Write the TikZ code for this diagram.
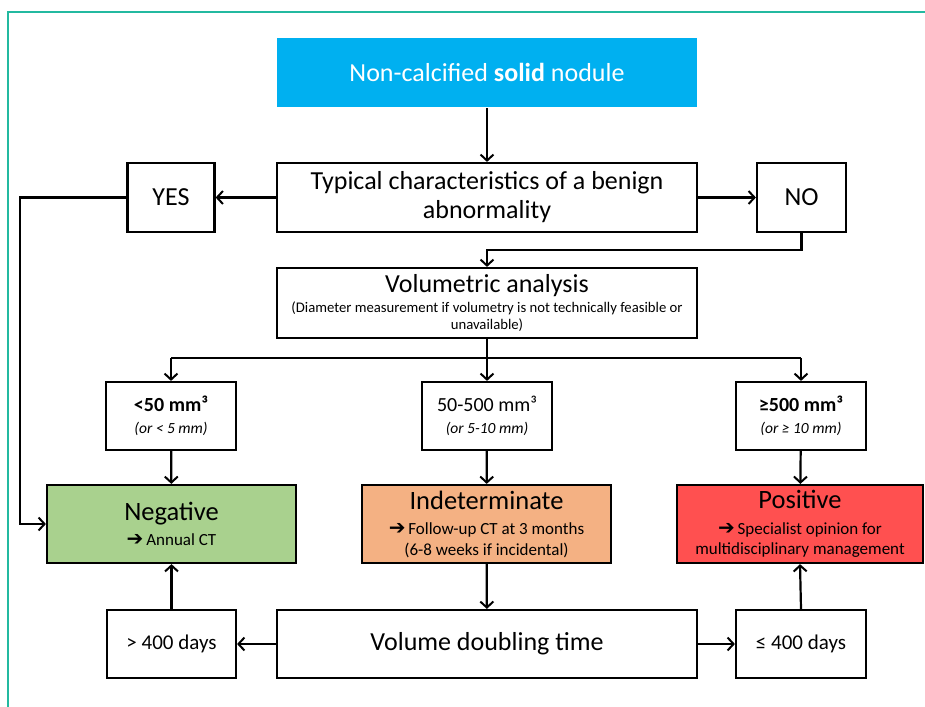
\documentclass[tikz,border=0pt]{standalone}
\usepackage{fontspec}
\setmainfont{Carlito}
\newfontfamily\dvfont{DejaVu Sans}
\usetikzlibrary{arrows.meta}
\definecolor{cyanbox}{HTML}{00B0F0}
\definecolor{greenbox}{HTML}{A9D18E}
\definecolor{orangebox}{HTML}{F4B183}
\definecolor{redbox}{HTML}{FF5050}
\definecolor{frameteal}{RGB}{35,185,160}
\newcommand{\myarr}{{\dvfont\bfseries\fontsize{20}{20}\selectfont ➔}\,}
\begin{document}
\begin{tikzpicture}[x=1pt,y=-1pt,
  box/.style={draw=black,line width=2.2pt,fill=white,inner sep=0pt,align=center,anchor=center},
  conn/.style={line width=2.2pt,-{Straight Barb[length=6pt,width=13pt,line width=2pt]}},
  plain/.style={line width=2.2pt}]
\useasboundingbox (0,0) rectangle (925,706);
\fill[white] (0,0) rectangle (925,706);
\draw[frameteal,line width=1.8pt] (8,707) -- (8,12) -- (926,12);

\node[box,fill=cyanbox,draw=none,text=white,minimum width=420,minimum height=69,font=\fontsize{26}{29}\selectfont] (top) at (487,72.5) {Non-calcified \textbf{solid} nodule};
\node[box,minimum width=420,minimum height=69,font=\fontsize{26}{29}\selectfont] (typ) at (487,197.5) {Typical characteristics of a benign\\abnormality};
\node[box,minimum width=87,minimum height=69,font=\fontsize{26}{29}\selectfont] (yes) at (171,197.5) {YES};
\node[box,minimum width=89,minimum height=69,font=\fontsize{26}{29}\selectfont] (no) at (801.5,197.5) {NO};
\node[box,minimum width=420,minimum height=70,font=\fontsize{14.7}{17}\selectfont] (vol) at (487,303) {{\fontsize{26}{29}\selectfont Volumetric analysis}\\[3pt](Diameter measurement if volumetry is not technically feasible or\\unavailable)};

\node[box,minimum width=130,minimum height=68,font=\fontsize{15.5}{22}\selectfont] (s1) at (171,416) {{\fontsize{20}{22}\selectfont\textbf{<50 mm³}}\\\textit{(or < 5 mm)}};
\node[box,minimum width=130,minimum height=68,font=\fontsize{15.5}{22}\selectfont] (s2) at (487,416) {{\fontsize{20}{22}\selectfont 50-500 mm³}\\\textit{(or 5-10 mm)}};
\node[box,minimum width=130,minimum height=68,font=\fontsize{15.5}{22}\selectfont] (s3) at (801,416) {{\fontsize{20}{22}\selectfont\textbf{≥500 mm³}}\\\textit{(or ≥ 10 mm)}};

\node[box,fill=greenbox,minimum width=249,minimum height=78,font=\fontsize{17}{20.5}\selectfont] (neg) at (171.5,524) {{\fontsize{26.5}{29}\selectfont Negative}\\[5pt]\myarr Annual CT};
\node[box,fill=orangebox,minimum width=249,minimum height=78,font=\fontsize{17}{20.5}\selectfont] (ind) at (486.5,524) {{\fontsize{26.5}{29}\selectfont Indeterminate}\\[5pt]\myarr Follow-up CT at 3 months\\(6-8 weeks if incidental)};
\node[box,fill=redbox,minimum width=246,minimum height=78,font=\fontsize{17}{20.5}\selectfont] (pos) at (800,524) {{\fontsize{26.5}{29}\selectfont Positive}\\[5pt]\myarr Specialist opinion for\\multidisciplinary management};

\node[box,minimum width=129,minimum height=68,font=\fontsize{21}{24}\selectfont] (b1) at (171.5,644) {> 400 days};
\node[box,minimum width=420,minimum height=68,font=\fontsize{26}{29}\selectfont] (vdt) at (487,644) {Volume doubling time};
\node[box,minimum width=130,minimum height=68,font=\fontsize{21}{24}\selectfont] (b3) at (801,644) {≤ 400 days};

\coordinate (nojoin) at (801.5,250);
\coordinate (voljoin) at (487,250);
\coordinate (yesleft) at (20,197.5);
\coordinate (negleft) at (20,524);
\coordinate (split) at (487,358);
\coordinate (splitl) at (171,358);
\coordinate (splitr) at (801,358);

\draw[conn] (top) -- (typ);
\draw[conn] (typ) -- (yes);
\draw[conn] (typ) -- (no);
\draw[conn] (no.south) -- (nojoin) -- (voljoin) -- (vol.north);
\draw[conn] (yes.west) -- (yesleft) -- (negleft) -- (neg.west);
\draw[plain] (vol.south) -- (split);
\draw[plain] (splitl) -- (splitr);
\draw[conn] (splitl) -- (s1.north);
\draw[conn] (split) -- (s2.north);
\draw[conn] (splitr) -- (s3.north);
\draw[conn] (s1) -- (neg);
\draw[conn] (s2) -- (ind);
\draw[conn] (s3) -- (pos);
\draw[conn] (ind) -- (vdt);
\draw[conn] (vdt) -- (b1);
\draw[conn] (vdt) -- (b3);
\draw[conn] (b1.north) -- (neg.south);
\draw[conn] (b3.north) -- (pos.south);
\end{tikzpicture}
\end{document}
